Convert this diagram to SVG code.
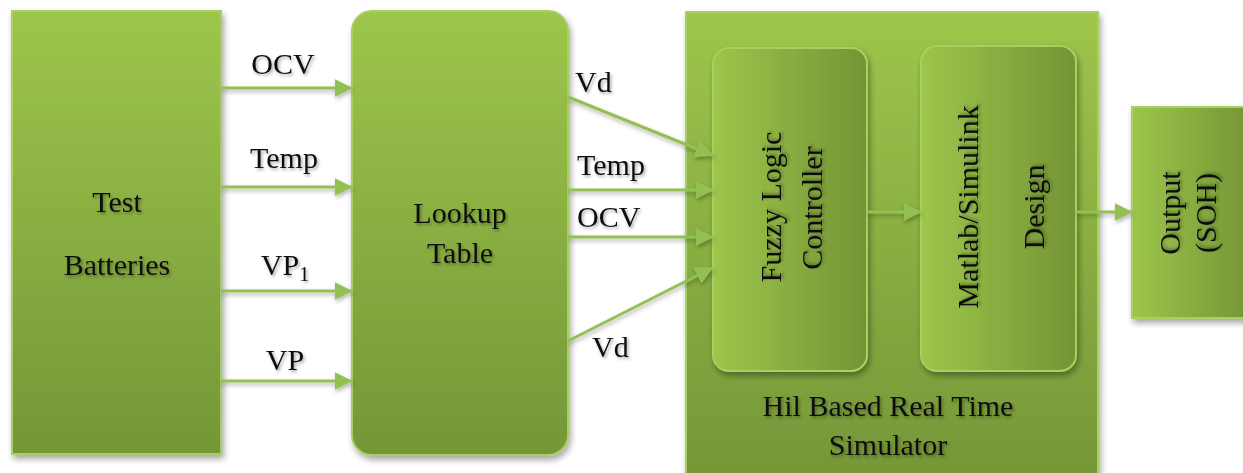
<svg xmlns="http://www.w3.org/2000/svg" width="1243" height="473" viewBox="0 0 1243 473">
  <defs>
    <linearGradient id="gv" x1="0" y1="0" x2="0" y2="1">
      <stop offset="0" stop-color="#9DC64B"/>
      <stop offset="1" stop-color="#759638"/>
    </linearGradient>
    <linearGradient id="gh" x1="0" y1="0" x2="1" y2="0">
      <stop offset="0" stop-color="#9DC64B"/>
      <stop offset="1" stop-color="#749435"/>
    </linearGradient>
    <filter id="sh" x="-10%" y="-10%" width="130%" height="130%">
      <feDropShadow dx="2" dy="4" stdDeviation="3" flood-color="#000" flood-opacity="0.35"/>
    </filter>
    <filter id="csh" x="-10%" y="-10%" width="130%" height="130%">
      <feDropShadow dx="1" dy="2.5" stdDeviation="2" flood-color="#000" flood-opacity="0.3"/>
    </filter>
    <filter id="tsh" x="-10%" y="-30%" width="130%" height="180%">
      <feDropShadow dx="1.5" dy="2" stdDeviation="1.5" flood-color="#000" flood-opacity="0.35"/>
    </filter>
    <marker id="ah" markerWidth="6" markerHeight="6" refX="5.5" refY="3" orient="auto" markerUnits="strokeWidth">
      <path d="M0,0 L6,3 L0,6 Z" fill="#93C052"/>
    </marker>
  </defs>
  <style>
    text { font-family: "Liberation Serif", "Times New Roman", serif; font-size: 30px; fill: #111; filter: url(#tsh); }
    .box { stroke: #A8CF60; stroke-width: 2; filter: url(#sh); }
    .c { fill: none; stroke: #93C052; stroke-width: 3; marker-end: url(#ah); }
  </style>

  <g id="test-batteries">
    <rect class="box" x="12" y="11" width="209" height="443" fill="url(#gv)"/>
    <text x="117" y="212" text-anchor="middle">Test</text>
    <text x="117" y="275" text-anchor="middle">Batteries</text>
  </g>

  <g id="lookup-table">
    <rect class="box" x="352" y="11" width="216" height="444" rx="20" fill="url(#gv)"/>
    <text x="460" y="223" text-anchor="middle">Lookup</text>
    <text x="460" y="263" text-anchor="middle">Table</text>
  </g>

  <g id="hil-simulator">
    <rect class="box" x="686" y="12" width="412" height="470" fill="url(#gv)"/>
    <text x="888" y="416" text-anchor="middle">Hil Based Real Time</text>
    <text x="888" y="455" text-anchor="middle">Simulator</text>
  </g>

  <g id="fuzzy-logic-controller">
    <rect class="box" x="713" y="48" width="154" height="323" rx="16" fill="url(#gh)"/>
    <text transform="translate(781,207) rotate(-90)" text-anchor="middle">Fuzzy Logic</text>
    <text transform="translate(822,208) rotate(-90)" text-anchor="middle">Controller</text>
  </g>

  <g id="matlab-simulink-design">
    <rect class="box" x="921" y="46" width="155" height="325" rx="16" fill="url(#gh)"/>
    <text transform="translate(978,207) rotate(-90)" text-anchor="middle">Matlab/Simulink</text>
    <text transform="translate(1044,207) rotate(-90)" text-anchor="middle">Design</text>
  </g>

  <g id="output-soh">
    <rect class="box" x="1132" y="107" width="120" height="211" fill="url(#gh)"/>
    <text transform="translate(1180,213) rotate(-90)" text-anchor="middle">Output</text>
    <text transform="translate(1216,213) rotate(-90)" text-anchor="middle">(SOH)</text>
  </g>

  <g id="connectors" filter="url(#csh)">
    <line class="c" x1="221" y1="88" x2="351" y2="88"/>
    <line class="c" x1="221" y1="187" x2="351" y2="187"/>
    <line class="c" x1="221" y1="291" x2="351" y2="291"/>
    <line class="c" x1="221" y1="381" x2="351" y2="381"/>
    <line class="c" x1="568" y1="97" x2="712" y2="155"/>
    <line class="c" x1="568" y1="190" x2="712" y2="190"/>
    <line class="c" x1="568" y1="237" x2="712" y2="237"/>
    <line class="c" x1="568" y1="341" x2="712" y2="268"/>
    <line class="c" x1="867" y1="212" x2="920" y2="212"/>
    <line class="c" x1="1076" y1="212" x2="1131" y2="212"/>
  </g>

  <g id="connector-labels">
    <text x="283" y="74" text-anchor="middle">OCV</text>
    <text x="284" y="168" text-anchor="middle">Temp</text>
    <text x="285" y="275" text-anchor="middle">VP<tspan font-size="20" dy="6">1</tspan></text>
    <text x="285" y="370" text-anchor="middle">VP</text>
    <text x="575" y="92">Vd</text>
    <text x="577" y="175">Temp</text>
    <text x="577" y="227">OCV</text>
    <text x="592" y="357">Vd</text>
  </g>
</svg>
